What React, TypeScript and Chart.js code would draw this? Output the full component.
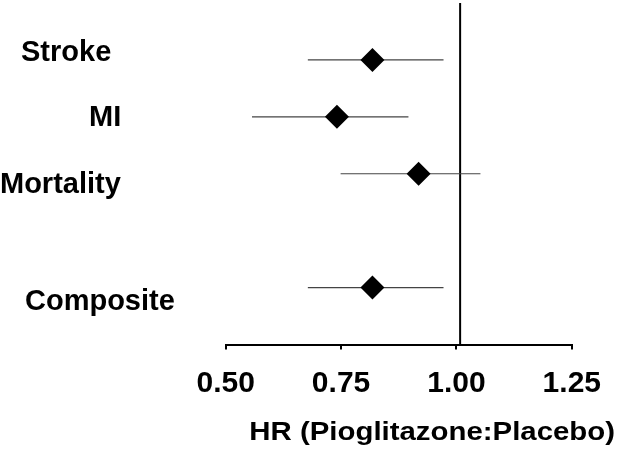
import React, { useEffect, useRef } from 'react';
import { Chart, registerables } from 'chart.js';

Chart.register(...registerables);

// ---- data ----
const categories = ['Stroke', 'MI', 'Mortality', 'Composite'];
const rowPositions = [1, 2, 3, 5];
const hazardRatio = [0.818, 0.741, 0.918, 0.818];
const ciLow = [0.678, 0.557, 0.749, 0.678];
const ciHigh = [0.972, 0.896, 1.052, 0.972];
const tickValues = [0.5, 0.75, 1.0, 1.25];
const tickLabels = ['0.50', '0.75', '1.00', '1.25'];
const referenceHR = 1.008;
const axisTitle = 'HR (Pioglitazone:Placebo)';

// ---- styles / placement of free text ----
const FONT = '"Liberation Sans", Arial, Helvetica, sans-serif';
const labelX = [21, 89, 0, 25];
const labelDy = [1, 9, 19, 22];
const LABEL_SIZE = 29;
const TITLE_SIZE = 26;
const TITLE_STRETCH = 1.13;
const TITLE_RIGHT = 615;
const TITLE_BASELINE = 440;

const textPlugin = {
  id: 'forestText',
  afterDraw(chart: any) {
    const ctx = chart.ctx as CanvasRenderingContext2D;
    const y = chart.scales.y;
    ctx.save();
    ctx.fillStyle = '#000';
    ctx.textBaseline = 'alphabetic';
    ctx.textAlign = 'left';
    ctx.font = `bold ${LABEL_SIZE}px ${FONT}`;
    categories.forEach((c, i) => {
      const py = y.getPixelForValue(rowPositions[i]);
      ctx.fillText(c, labelX[i], py + labelDy[i]);
    });
    ctx.font = `bold ${TITLE_SIZE}px ${FONT}`;
    ctx.textAlign = 'right';
    ctx.translate(TITLE_RIGHT, TITLE_BASELINE);
    ctx.scale(TITLE_STRETCH, 1);
    ctx.fillText(axisTitle, 0, 0);
    ctx.restore();
  },
};

export default function App() {
  const ref = useRef<HTMLCanvasElement>(null);

  useEffect(() => {
    if (!ref.current) return;
    const ciSets = categories.map((c, i) => ({
      type: 'line' as const,
      label: c + ' CI',
      data: [
        { x: ciLow[i], y: rowPositions[i] },
        { x: ciHigh[i], y: rowPositions[i] },
      ],
      showLine: true,
      pointRadius: 0,
      borderColor: '#444',
      borderWidth: 1.2,
    }));
    const chart = new Chart(ref.current, {
      type: 'scatter',
      data: {
        datasets: [
          {
            label: 'HR',
            data: categories.map((_, i) => ({ x: hazardRatio[i], y: rowPositions[i] })),
            pointStyle: 'rectRot',
            pointRadius: 12,
            pointHoverRadius: 12,
            backgroundColor: '#000',
            borderColor: '#000',
            borderWidth: 0,
          },
          ...ciSets,
          {
            type: 'line' as const,
            label: 'ref',
            data: [
              { x: referenceHR, y: 0 },
              { x: referenceHR, y: 6 },
            ],
            showLine: true,
            pointRadius: 0,
            borderColor: '#000',
            borderWidth: 2,
          },
        ] as any,
      },
      options: {
        animation: false,
        responsive: true,
        maintainAspectRatio: false,
        layout: { autoPadding: false, padding: { left: 225.7, right: 44.3, top: 3, bottom: 0 } },
        plugins: { legend: { display: false }, tooltip: { enabled: false } },
        scales: {
          y: { type: 'linear', min: 0, max: 6, reverse: true, display: false },
          x: {
            type: 'linear',
            position: 'bottom',
            min: 0.5,
            max: 1.25,
            afterBuildTicks: (s: any) => {
              s.ticks = tickValues.map((v) => ({ value: v }));
            },
            afterFit: (s: any) => {
              s.height = 107.5;
            },
            ticks: {
              callback: (_v: any, i: number) => tickLabels[i],
              font: { family: FONT, size: 30, weight: 'bold' },
              color: '#000',
              padding: 16,
              maxRotation: 0,
              autoSkip: false,
            },
            grid: {
              drawOnChartArea: false,
              drawTicks: true,
              tickLength: 5,
              color: '#000',
              lineWidth: 2,
            },
            border: { display: true, color: '#000', width: 2 },
          },
        },
      } as any,
      plugins: [textPlugin],
    });
    return () => chart.destroy();
  }, []);

  return (
    <div style={{ position: 'fixed', left: 0, top: 0, width: 617, height: 452, background: '#fff' }}>
      <canvas ref={ref} style={{ display: 'block' }} />
    </div>
  );
}
